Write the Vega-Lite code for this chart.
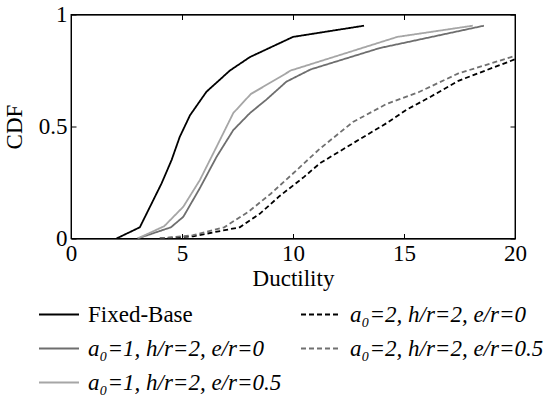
{
  "$schema": "https://vega.github.io/schema/vega-lite/v6.json",
  "width": 444,
  "height": 224,
  "autosize": "none",
  "padding": {"left": 71, "top": 14.5, "right": 38, "bottom": 162.5},
  "background": "white",
  "config": {
    "font": "Liberation Serif, Times New Roman, DejaVu Serif, serif",
    "view": {"stroke": "black", "strokeWidth": 1.3},
    "axis": {
      "grid": false,
      "labelFont": "Liberation Serif, Times New Roman, DejaVu Serif, serif",
      "titleFont": "Liberation Serif, Times New Roman, DejaVu Serif, serif",
      "labelFontSize": 23,
      "titleFontSize": 23,
      "titleFontWeight": "normal",
      "labelColor": "black",
      "titleColor": "black",
      "domainColor": "black",
      "tickColor": "black",
      "tickSize": -5,
      "labelFlush": false,
      "labelOverlap": false
    },
    "legend": {
      "labelFont": "Liberation Serif, Times New Roman, DejaVu Serif, serif",
      "labelFontSize": 23,
      "labelColor": "black"
    }
  },
  "data": {
    "values": [
      {"s": "Fixed-Base", "x": 2.05, "y": 0},
      {"s": "Fixed-Base", "x": 3.1, "y": 0.05},
      {"s": "Fixed-Base", "x": 4.08, "y": 0.246},
      {"s": "Fixed-Base", "x": 4.53, "y": 0.35},
      {"s": "Fixed-Base", "x": 4.9, "y": 0.454},
      {"s": "Fixed-Base", "x": 5.36, "y": 0.55},
      {"s": "Fixed-Base", "x": 6.1, "y": 0.655},
      {"s": "Fixed-Base", "x": 7.16, "y": 0.75},
      {"s": "Fixed-Base", "x": 8.06, "y": 0.81},
      {"s": "Fixed-Base", "x": 10.0, "y": 0.9},
      {"s": "Fixed-Base", "x": 13.2, "y": 0.95},

      {"s": "a₀=1, h/r=2, e/r=0", "x": 3.0, "y": 0},
      {"s": "a₀=1, h/r=2, e/r=0", "x": 4.5, "y": 0.05},
      {"s": "a₀=1, h/r=2, e/r=0", "x": 5.06, "y": 0.097},
      {"s": "a₀=1, h/r=2, e/r=0", "x": 5.8, "y": 0.224},
      {"s": "a₀=1, h/r=2, e/r=0", "x": 6.56, "y": 0.365},
      {"s": "a₀=1, h/r=2, e/r=0", "x": 7.31, "y": 0.484},
      {"s": "a₀=1, h/r=2, e/r=0", "x": 8.06, "y": 0.56},
      {"s": "a₀=1, h/r=2, e/r=0", "x": 8.8, "y": 0.62},
      {"s": "a₀=1, h/r=2, e/r=0", "x": 9.7, "y": 0.7},
      {"s": "a₀=1, h/r=2, e/r=0", "x": 10.8, "y": 0.755},
      {"s": "a₀=1, h/r=2, e/r=0", "x": 13.9, "y": 0.85},
      {"s": "a₀=1, h/r=2, e/r=0", "x": 18.6, "y": 0.95},

      {"s": "a₀=1, h/r=2, e/r=0.5", "x": 3.0, "y": 0},
      {"s": "a₀=1, h/r=2, e/r=0.5", "x": 4.2, "y": 0.055},
      {"s": "a₀=1, h/r=2, e/r=0.5", "x": 5.06, "y": 0.142},
      {"s": "a₀=1, h/r=2, e/r=0.5", "x": 5.8, "y": 0.26},
      {"s": "a₀=1, h/r=2, e/r=0.5", "x": 6.56, "y": 0.41},
      {"s": "a₀=1, h/r=2, e/r=0.5", "x": 7.31, "y": 0.56},
      {"s": "a₀=1, h/r=2, e/r=0.5", "x": 8.1, "y": 0.645},
      {"s": "a₀=1, h/r=2, e/r=0.5", "x": 9.4, "y": 0.72},
      {"s": "a₀=1, h/r=2, e/r=0.5", "x": 9.9, "y": 0.75},
      {"s": "a₀=1, h/r=2, e/r=0.5", "x": 14.7, "y": 0.9},
      {"s": "a₀=1, h/r=2, e/r=0.5", "x": 18.1, "y": 0.95},

      {"s": "a₀=2, h/r=2, e/r=0", "x": 4.0, "y": 0},
      {"s": "a₀=2, h/r=2, e/r=0", "x": 5.5, "y": 0.01},
      {"s": "a₀=2, h/r=2, e/r=0", "x": 7.6, "y": 0.05},
      {"s": "a₀=2, h/r=2, e/r=0", "x": 8.5, "y": 0.11},
      {"s": "a₀=2, h/r=2, e/r=0", "x": 9.4, "y": 0.19},
      {"s": "a₀=2, h/r=2, e/r=0", "x": 10.5, "y": 0.275},
      {"s": "a₀=2, h/r=2, e/r=0", "x": 11.2, "y": 0.335},
      {"s": "a₀=2, h/r=2, e/r=0", "x": 12.7, "y": 0.425},
      {"s": "a₀=2, h/r=2, e/r=0", "x": 14.2, "y": 0.514},
      {"s": "a₀=2, h/r=2, e/r=0", "x": 15.1, "y": 0.574},
      {"s": "a₀=2, h/r=2, e/r=0", "x": 16.2, "y": 0.633},
      {"s": "a₀=2, h/r=2, e/r=0", "x": 17.45, "y": 0.704},
      {"s": "a₀=2, h/r=2, e/r=0", "x": 20.0, "y": 0.8},

      {"s": "a₀=2, h/r=2, e/r=0.5", "x": 4.0, "y": 0},
      {"s": "a₀=2, h/r=2, e/r=0.5", "x": 5.5, "y": 0.015},
      {"s": "a₀=2, h/r=2, e/r=0.5", "x": 6.9, "y": 0.05},
      {"s": "a₀=2, h/r=2, e/r=0.5", "x": 8.0, "y": 0.12},
      {"s": "a₀=2, h/r=2, e/r=0.5", "x": 9.0, "y": 0.2},
      {"s": "a₀=2, h/r=2, e/r=0.5", "x": 10.0, "y": 0.29},
      {"s": "a₀=2, h/r=2, e/r=0.5", "x": 11.2, "y": 0.4},
      {"s": "a₀=2, h/r=2, e/r=0.5", "x": 12.7, "y": 0.52},
      {"s": "a₀=2, h/r=2, e/r=0.5", "x": 14.2, "y": 0.6},
      {"s": "a₀=2, h/r=2, e/r=0.5", "x": 15.7, "y": 0.655},
      {"s": "a₀=2, h/r=2, e/r=0.5", "x": 17.45, "y": 0.737},
      {"s": "a₀=2, h/r=2, e/r=0.5", "x": 20.0, "y": 0.815}
    ]
  },
  "resolve": {"axis": {"x": "independent", "y": "independent"}},
  "layer": [
    {
      "mark": {"type": "line", "clip": true, "strokeWidth": 1.8},
      "encoding": {
        "x": {
          "field": "x", "type": "quantitative",
          "scale": {"domain": [0, 20], "nice": false},
          "axis": {"orient": "bottom", "title": "Ductility", "values": [0, 5, 10, 15, 20], "format": "~g", "labelPadding": 9, "titlePadding": 2}
        },
        "y": {
          "field": "y", "type": "quantitative",
          "scale": {"domain": [0, 1], "nice": false},
          "axis": {"orient": "left", "title": "CDF", "values": [0, 0.5, 1], "format": "~g", "labelPadding": 9, "titlePadding": 12}
        },
        "color": {
          "field": "s", "type": "nominal",
          "scale": {
            "domain": ["Fixed-Base", "a₀=1, h/r=2, e/r=0", "a₀=1, h/r=2, e/r=0.5", "a₀=2, h/r=2, e/r=0", "a₀=2, h/r=2, e/r=0.5"],
            "range": ["#000000", "#6e6e6e", "#a6a6a6", "#000000", "#707070"]
          },
          "legend": {
            "title": null,
            "orient": "none",
            "legendX": -33,
            "legendY": 279,
            "columns": 2,
            "columnPadding": 15,
            "rowPadding": 1,
            "symbolType": "stroke",
            "symbolSize": 1600,
            "symbolStrokeWidth": 1.8,
            "labelOffset": 8,
            "labelLimit": 0,
            "encode": {
              "labels": {"update": {"fontStyle": {"signal": "datum.label == 'Fixed-Base' ? 'normal' : 'italic'"}}}
            }
          }
        },
        "strokeDash": {
          "field": "s", "type": "nominal",
          "scale": {
            "domain": ["Fixed-Base", "a₀=1, h/r=2, e/r=0", "a₀=1, h/r=2, e/r=0.5", "a₀=2, h/r=2, e/r=0", "a₀=2, h/r=2, e/r=0.5"],
            "range": [[1, 0], [1, 0], [1, 0], [5, 3], [5, 3]]
          }
        }
      }
    },
    {
      "mark": {"type": "point", "opacity": 0},
      "encoding": {
        "x": {"field": "x", "type": "quantitative", "axis": {"orient": "top", "title": null, "labels": false, "values": [0, 5, 10, 15, 20]}},
        "y": {"field": "y", "type": "quantitative", "axis": {"orient": "right", "title": null, "labels": false, "values": [0, 0.5, 1]}}
      }
    }
  ]
}
